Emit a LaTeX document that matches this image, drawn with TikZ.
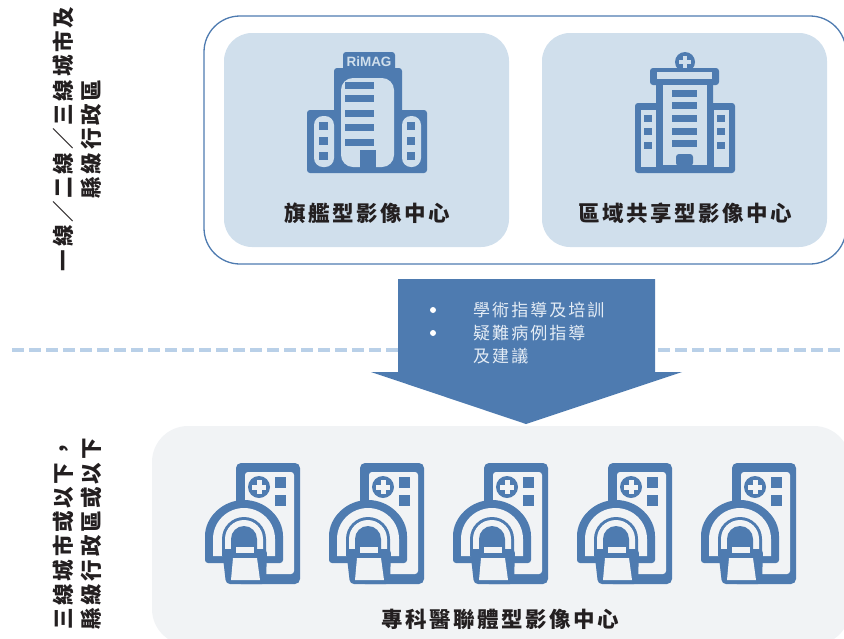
\documentclass[tikz,border=0pt]{standalone}
\usepackage{fontspec}
\newfontfamily\cjk{Noto Sans CJK TC}
\newfontfamily\latinsans{Liberation Sans}
\definecolor{iconblue}{HTML}{4E7BB0}
\definecolor{cardblue}{HTML}{D0DFEC}
\definecolor{panelgrey}{HTML}{F1F3F5}
\definecolor{dashblue}{HTML}{B9D0E8}
\definecolor{inktext}{HTML}{231F20}
\definecolor{arrowtext}{HTML}{E4ECF5}
\tikzset{
  card/.style={fill=cardblue,rounded corners=28pt},
  dk/.style={fill=iconblue},
  lt/.style={fill=cardblue},
  gl/.style={fill=panelgrey},
  boxlabel/.style={inner sep=0pt,text=inktext,font=\cjk\bfseries\fontsize{21.5}{24}\selectfont\addfontfeature{LetterSpace=11.5}},
  sidelabel/.style={inner sep=0pt,rotate=90,text=inktext,align=center,font=\cjk\bfseries\fontsize{21.5}{28}\selectfont\addfontfeature{LetterSpace=13}},
  arrowlabel/.style={inner sep=0pt,anchor=west,text=arrowtext,font=\cjk\fontsize{17}{19}\selectfont\addfontfeature{LetterSpace=12}},
}
\newcommand{\archshape}[3]{\fill[#1] ({244-#2},#3) -- ({244-#2},539) arc[start angle=180,end angle=0,radius=#2 pt] -- ({244+#2},#3) -- cycle;}
\newcommand{\scannericon}[1]{%
\begin{scope}[xshift=#1pt]
  \fill[dk,rounded corners=5pt] (236,463) rectangle (300,584);
  \fill[gl,rounded corners=3pt] (245,472) rectangle (294,574);
  \fill[dk] (259,487) circle[radius=11pt];
  \fill[gl] (252,484.5) rectangle (266,489.5);
  \fill[gl] (256.5,480) rectangle (261.5,494);
  \fill[dk] (275,477) rectangle (286,488);
  \fill[dk] (275,495) rectangle (286,506);
  \archshape{iconblue,rounded corners=3pt}{39}{563}
  \archshape{panelgrey}{31}{556}
  \archshape{iconblue}{22}{556}
  \archshape{panelgrey}{19}{549}
  \archshape{iconblue}{13}{549}
  \fill[dk,rounded corners=4pt] (222,549) -- (267,549) -- (266,584) -- (226,584) -- cycle;
  \fill[gl] (236,547) -- (254,547) -- (254,553) -- (236,553) -- cycle;
  \fill[gl] (233,558) -- (257,558) -- (260,580) -- (231,580) -- cycle;
\end{scope}}
\begin{document}
\begin{tikzpicture}[x=1pt,y=-1pt]
\useasboundingbox (0,0) rectangle (844,638);
\begin{scope}
\clip (0,0) rectangle (844,638);
% dashed separator
\draw[dashblue,line width=3.5pt,dash pattern=on 12pt off 5pt] (12,350) -- (844,350);
% upper frame and cards
\draw[iconblue,line width=1.3pt,rounded corners=36pt] (204,16) rectangle (846,264);
\fill[card] (224,33) rectangle (509,247);
\fill[card] (542,33) rectangle (827,247);
% lower panel
\fill[gl,rounded corners=36pt] (152,426) rectangle (850,645);
\end{scope}
% flagship building
\fill[dk,rounded corners=3pt] (343,52) rectangle (395,72);
\fill[dk,rounded corners=3pt] (334,68) rectangle (402,120);
\fill[dk,rounded corners=3pt] (307,110) rectangle (427,173);
\fill[lt,rounded corners=12pt] (341,78) rectangle (394,167);
\foreach \yy in {82,95,110,124,139} \fill[dk] (345,\yy) rectangle (374,\yy+7);
\fill[dk] (360,150) rectangle (376,168);
\fill[lt,rounded corners=9pt] (314,116) rectangle (334,167);
\fill[lt,rounded corners=9pt] (402,116) rectangle (421,167);
\foreach \yy in {122,137,152} {\fill[dk] (319,\yy) rectangle (328,\yy+7.5);\fill[dk] (407,\yy) rectangle (415,\yy+7.5);}
\node[inner sep=0pt,text=cardblue,font=\latinsans\bfseries\fontsize{13.5}{14}\selectfont] (rimag) at (369,61.5) {RiMAG};
% regional building
\fill[dk] (685,62) circle[radius=10pt];
\fill[lt] (679,59.8) rectangle (691,64.2);
\fill[lt] (682.8,56) rectangle (687.2,68);
\fill[dk,rounded corners=3pt] (656,80) rectangle (713,110);
\fill[dk,rounded corners=3pt] (650,68) rectangle (719,85);
\fill[lt] (657,72) rectangle (712,79);
\fill[dk,rounded corners=3pt] (635,103) rectangle (735,173);
\fill[lt] (663,85) rectangle (707,165);
\foreach \yy in {90,102,115,128,140} \fill[dk] (672,\yy) rectangle (697,\yy+6.7);
\fill[dk,rounded corners=3pt] (676,166) -- (676,154) -- (693,154) -- (693,166) -- cycle;
\fill[lt] (641,110) rectangle (656,167);
\fill[lt] (714,110) rectangle (729,167);
\foreach \yy in {115,128,142} {\fill[dk] (644,\yy) rectangle (652,\yy+6.7);\fill[dk] (717,\yy) rectangle (725,\yy+6.7);}
% scanners
\foreach \dx in {0,124,248,372,496} {\scannericon{\dx}}
% down arrow
\fill[dk] (398,279) -- (655,279) -- (655,372) -- (682,372) -- (526,424) -- (371,372) -- (398,372) -- cycle;
\fill[white] (433,310) circle[radius=3pt];
\fill[white] (433,333) circle[radius=3pt];
\node[arrowlabel] (a1) at (473,310) {學術指導及培訓};
\node[arrowlabel] (a2) at (473,333) {疑難病例指導};
\node[arrowlabel] (a3) at (473,356) {及建議};
% labels
\node[boxlabel] (l1) at (367,213) {旗艦型影像中心};
\node[boxlabel] (l2) at (685,213) {區域共享型影像中心};
\node[boxlabel] (l3) at (500,619) {專科醫聯體型影像中心};
\node[sidelabel] (s1) at (77,139) {一線／二線／三線城市及\\縣級行政區};
\node[sidelabel] (s2) at (77,534) {三線城市或以下，\\縣級行政區或以下};
\end{tikzpicture}
\end{document}
